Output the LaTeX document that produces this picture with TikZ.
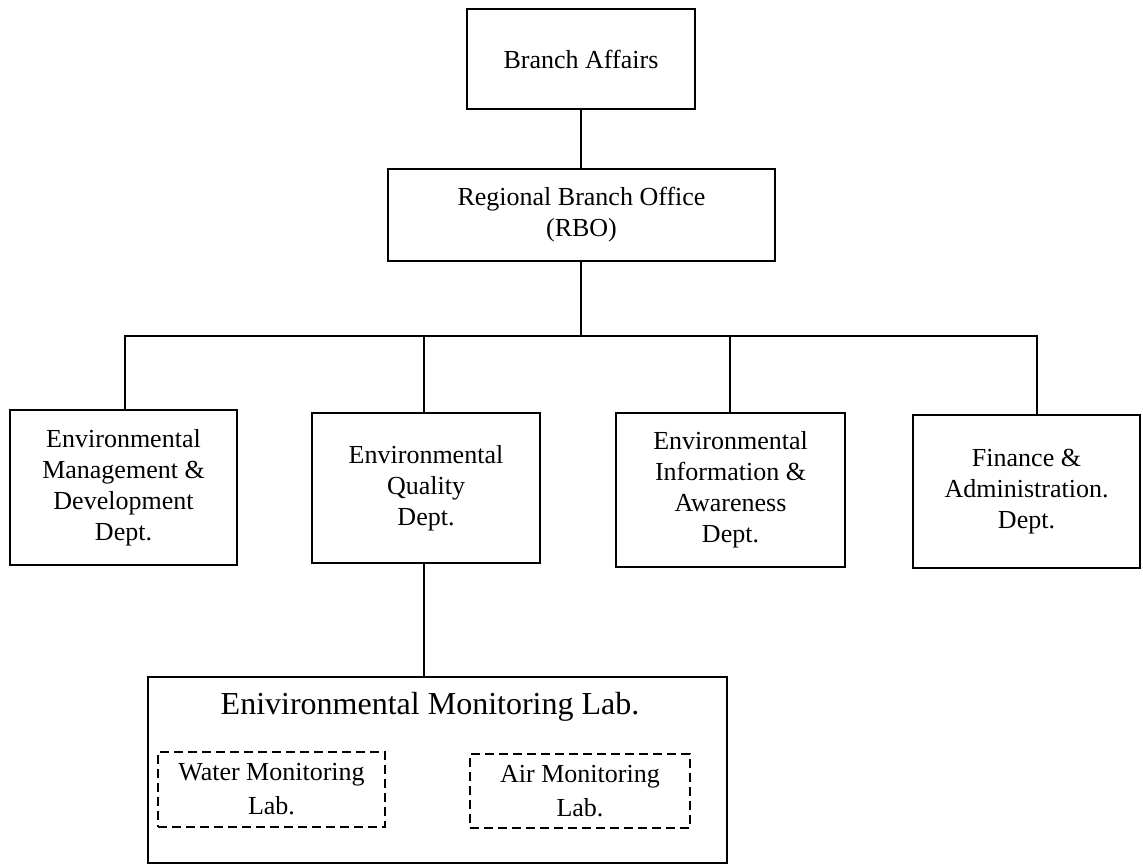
\documentclass[tikz,border=0pt]{standalone}
\usepackage{fontspec}
\setmainfont{Liberation Serif}
\begin{document}
\begin{tikzpicture}[x=1pt,y=-1pt,
  box/.style={draw, line width=1.4pt, inner sep=0pt, align=center,
    font=\fontsize{26}{31}\selectfont},
  labbox/.style={draw, line width=1.2pt, dash pattern=on 9pt off 5pt, inner sep=0pt,
    align=center, font=\fontsize{26}{34}\selectfont},
  conn/.style={line width=1.3pt}]
\useasboundingbox (0,0) rectangle (1143,865);
\node[box, minimum width=228pt, minimum height=100pt] (BA) at (581,59) {Branch Affairs};
\node[box, minimum width=387pt, minimum height=92pt] (RBO) at (581.5,215) {Regional Branch Office\\(RBO)};
\node[box, minimum width=227pt, minimum height=155pt] (EM) at (123.5,487.5) {Environmental\\Management \&\\Development\\Dept.};
\node[box, minimum width=228pt, minimum height=150pt] (EQ) at (426,488) {Environmental\\Quality\\Dept.};
\node[box, minimum width=229pt, minimum height=154pt] (EI) at (730.5,490) {Environmental\\Information \&\\Awareness\\Dept.};
\node[box, minimum width=227pt, minimum height=153pt] (FA) at (1026.5,491.5) {Finance \&\\Administration.\\Dept.};
\node[draw, line width=1.4pt, minimum width=579pt, minimum height=186pt, inner sep=0pt] (LAB) at (437.5,770) {};
\node[inner sep=0pt, font=\fontsize{32}{36}\selectfont] (LABT) at (430,707) {Enivironmental Monitoring Lab.};
\node[labbox, minimum width=227pt, minimum height=75pt] (WML) at (271.5,789.5) {Water Monitoring\\Lab.};
\node[labbox, minimum width=220pt, minimum height=74pt] (AML) at (580,791) {Air Monitoring\\Lab.};
\coordinate (bar) at (581,336);
\draw[conn] (BA.south) -- (BA.south |- RBO.north);
\draw[conn] (RBO.south -| bar) -- (bar);
\draw[conn] ([xshift=1.5pt]EM.north) |- (bar);
\draw[conn] ([xshift=-2pt]EQ.north) |- (bar);
\draw[conn] ([xshift=-0.5pt]EI.north) |- (bar);
\draw[conn] ([xshift=10.5pt]FA.north) |- (bar);
\draw[conn] ([xshift=-2pt]EQ.south) -- ([xshift=-2pt]EQ.south |- LAB.north);
\end{tikzpicture}
\end{document}
